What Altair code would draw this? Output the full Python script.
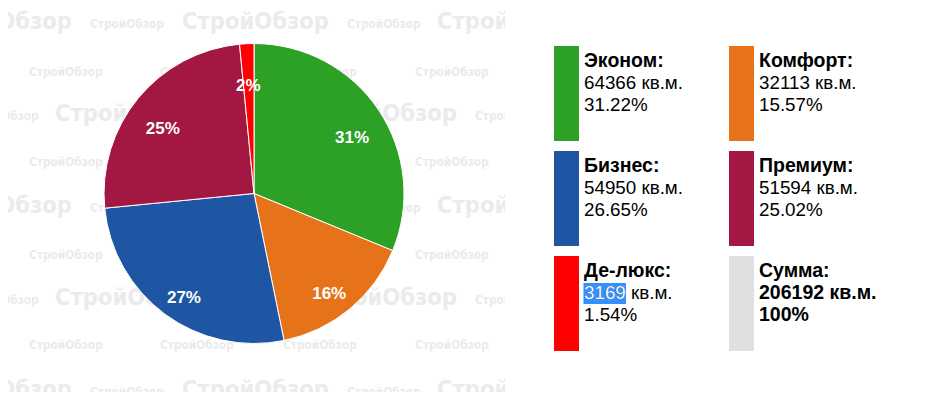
import altair as alt
import pandas as pd

# ---- data ----
names = ["Эконом", "Комфорт", "Бизнес", "Премиум", "Де-люкс"]
areas = [64366, 32113, 54950, 51594, 3169]
shares = ["31.22%", "15.57%", "26.65%", "25.02%", "1.54%"]
pie_labels = ["31%", "16%", "27%", "25%", "2%"]
colors = ["#2ca125", "#e6731a", "#1f56a3", "#a31843", "#ff0000"]
total_label = "Сумма"
total_area = "206192"
total_share = "100%"
total_color = "#e0e0e0"
unit = "кв.м."
watermark_text = "СтройОбзор"
highlighted = "Де-люкс"

FONT = "Liberation Sans, Arial, sans-serif"
WM_FONT = "Liberation Sans Narrow, DejaVu Sans Condensed, sans-serif"

pie_df = pd.DataFrame({"name": names, "area": areas, "label": pie_labels,
                       "idx": list(range(len(names)))})

leg_df = pd.DataFrame({
    "name": names + [total_label],
    "title": [n + ":" for n in names] + [total_label + ":"],
    "line2": [f"{a} {unit}" for a in areas] + [f"{total_area} {unit}"],
    "line3": shares + [total_share],
    "num": [str(a) for a in areas] + [total_area],
    "color": colors + [total_color],
    "i": list(range(len(names) + 1)),
    "total": [False] * len(names) + [True],
})

# watermark tiling pattern (decoration)
wm_rows = []
for k, yc in enumerate([22, 114, 206, 298, 390]):
    if k % 2 == 0:
        starts_big, starts_small = [-75, 182, 437], [90, 347]
    else:
        starts_big, starts_small = [55, 310], [-35, 220, 475]
    for s in starts_big:
        wm_rows.append({"wx": s, "wy": yc, "big": True})
    for s in starts_small:
        wm_rows.append({"wx": s, "wy": yc + 2, "big": False})
for yc in [72, 162, 255, 345]:
    for s in [29, 160, 283, 415]:
        wm_rows.append({"wx": s, "wy": yc, "big": False})
wm_df = pd.DataFrame(wm_rows)
wm_df["t"] = watermark_text

XS = alt.Scale(domain=[8, 917], range=[0, 909], nice=False, zero=False)
YS = alt.Scale(domain=[8, 392], range=[0, 384], nice=False, zero=False)

def X(f):
    return alt.X(f, type="quantitative", scale=XS, axis=None)

def Y(f):
    return alt.Y(f, type="quantitative", scale=YS, axis=None)

wm_base = alt.Chart(wm_df)
wm_big = wm_base.transform_filter("datum.big").mark_text(
    font=WM_FONT, fontWeight="bold", fontSize=23.5, color="#ebebeb",
    align="left", baseline="middle").encode(x=X("wx"), y=Y("wy"), text="t:N")
wm_small = wm_base.transform_filter("!datum.big").mark_text(
    font=WM_FONT, fontWeight="bold", fontSize=11.8, color="#ebebeb",
    align="left", baseline="middle").encode(x=X("wx"), y=Y("wy"), text="t:N")

cover = alt.Chart(pd.DataFrame({"a": [0]})).mark_rect(color="white").encode(
    x=alt.value(497), x2=alt.value(909), y=alt.value(0), y2=alt.value(384))

CX, CY = 246, 185.5
pie = alt.Chart(pie_df).mark_arc(outerRadius=150, stroke="white", strokeWidth=1).encode(
    theta=alt.Theta("area:Q", stack=True),
    color=alt.Color("name:N", scale=alt.Scale(domain=names, range=colors), legend=None),
    order=alt.Order("idx:Q"),
    x=alt.value(CX), y=alt.value(CY),
)
pie_text = alt.Chart(pie_df).mark_text(
    radius=118, dy=10, fontSize=17, fontWeight="bold", color="white", font=FONT,
    baseline="middle", align="center").encode(
    theta=alt.Theta("area:Q", stack=True),
    order=alt.Order("idx:Q"),
    text="label:N",
    x=alt.value(CX), y=alt.value(CY),
)

leg = alt.Chart(leg_df).transform_calculate(
    col="datum.i % 2", row="floor(datum.i / 2)"
).transform_calculate(
    bx="554 + datum.col * 175", bx2="554 + datum.col * 175 + 25",
    by="46 + datum.row * 105", by2="46 + datum.row * 105 + 95",
    tx="584 + datum.col * 175",
    ty1="67 + datum.row * 105", ty2="89 + datum.row * 105", ty3="111 + datum.row * 105",
)

blocks = leg.mark_rect().encode(
    x=X("bx"), x2="bx2:Q", y=Y("by"), y2="by2:Q",
    color=alt.Color("color:N", scale=None))

FS = 18.8
FSB = 19.5
titles = leg.mark_text(font=FONT, fontSize=FSB, fontWeight="bold", color="#000",
                       align="left", baseline="alphabetic").encode(
    x=X("tx"), y=Y("ty1"), text="title:N")
l2_reg = leg.transform_filter("!datum.total").mark_text(
    font=FONT, fontSize=FS, color="#000", align="left", baseline="alphabetic").encode(
    x=X("tx"), y=Y("ty2"), text="line2:N")
l3_reg = leg.transform_filter("!datum.total").mark_text(
    font=FONT, fontSize=FS, color="#000", align="left", baseline="alphabetic").encode(
    x=X("tx"), y=Y("ty3"), text="line3:N")
l2_bold = leg.transform_filter("datum.total").mark_text(
    font=FONT, fontSize=FSB, fontWeight="bold", color="#000", align="left",
    baseline="alphabetic").encode(x=X("tx"), y=Y("ty2"), text="line2:N")
l3_bold = leg.transform_filter("datum.total").mark_text(
    font=FONT, fontSize=FSB, fontWeight="bold", color="#000", align="left",
    baseline="alphabetic").encode(x=X("tx"), y=Y("ty3"), text="line3:N")

hl = leg.transform_filter(alt.datum.name == highlighted).transform_calculate(
    hx="datum.tx - 0.5", hx2="datum.tx + 42", hy="datum.ty2 - 16", hy2="datum.ty2 + 5")
hl_rect = hl.mark_rect(color="#3390ff").encode(x=X("hx"), x2="hx2:Q", y=Y("hy"), y2="hy2:Q")
hl_text = hl.mark_text(font=FONT, fontSize=FS, color="white", align="left",
                       baseline="alphabetic").encode(x=X("tx"), y=Y("ty2"), text="num:N")

chart = alt.layer(
    wm_big, wm_small, cover, pie, pie_text, blocks, hl_rect,
    titles, l2_reg, l3_reg, l2_bold, l3_bold, hl_text,
).properties(
    width=909, height=384, autosize="none", padding=0, background="white"
).configure_view(stroke=None)

chart.save("out.html", embed_options={"renderer": "svg", "actions": False})
